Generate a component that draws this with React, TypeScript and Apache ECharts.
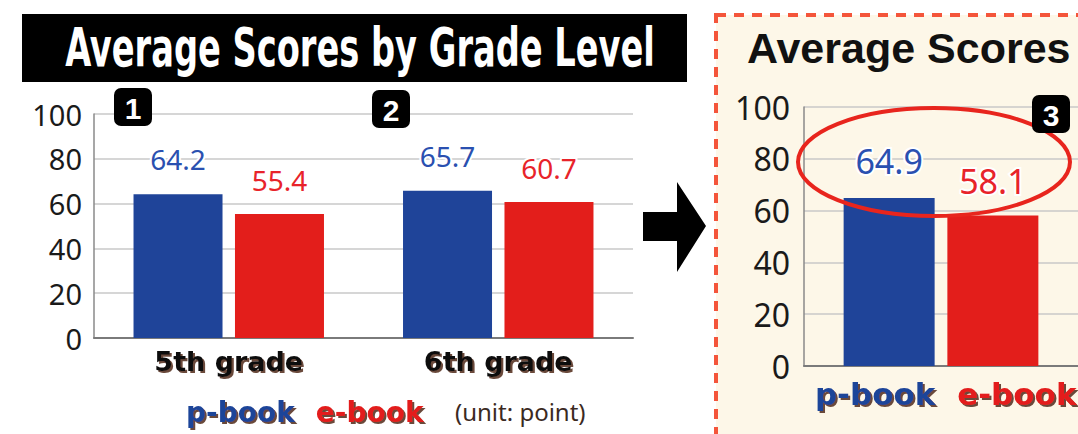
import React, { useEffect, useRef } from 'react';
import * as echarts from 'echarts';

const seriesNames = ['p-book', 'e-book'];
const gradeCategories = ['5th grade', '6th grade'];
const pbookByGrade = [64.2, 65.7];
const ebookByGrade = [55.4, 60.7];
const overallCategory = ['overall'];
const pbookOverall = [64.9];
const ebookOverall = [58.1];
const yMin = 0;
const yMax = 100;
const yStep = 20;
const mainTitle = 'Average Scores by Grade Level';
const sideTitle = 'Average Scores';
const unitNote = '(unit: point)';
const badges = ['1', '2', '3'];

const BLUE = '#1f4499';
const RED = '#e31e1b';
const BLUE_TXT = '#2a50b0';
const RED_TXT = '#e8232a';
const SHADOW = '#6b4a3a';

function measure(text: string, font: string): number {
  const c = document.createElement('canvas');
  const ctx = c.getContext('2d');
  if (!ctx) return 600;
  ctx.font = font;
  return ctx.measureText(text).width;
}

export default function App() {
  const ref = useRef<HTMLDivElement>(null);
  useEffect(() => {
    if (!ref.current) return;
    const chart = echarts.init(ref.current, undefined, { renderer: 'svg' });
    const titleFont = 'bold 54px "Liberation Sans Narrow", "DejaVu Sans Condensed", sans-serif';
    const tw = measure(mainTitle, titleFont);
    const titleScale = 590 / tw;

    const blockLabel = {
      fontFamily: 'DejaVu Sans',
      fontWeight: 'bold' as const,
      textShadowColor: SHADOW,
      textShadowOffsetX: 2,
      textShadowOffsetY: 2,
      textShadowBlur: 1,
    };

    const valueLabel = (color: string, size: number, dist: number) => ({
      show: true,
      position: 'top' as const,
      distance: dist,
      fontFamily: 'Noto Sans',
      fontSize: size,
      color,
      textBorderColor: '#ffffff',
      textBorderWidth: 4,
    });

    const nameMark = (name: string, color: string, dx: number) => ({
      symbol: 'circle',
      symbolSize: 1,
      itemStyle: { color: 'rgba(0,0,0,0)' },
      silent: true,
      data: [{ name, coord: [overallCategory[0], 0] }],
      label: {
        show: true,
        position: 'bottom' as const,
        distance: 12,
        offset: [dx, 0],
        formatter: '{b}',
        fontSize: 31,
        color,
        ...blockLabel,
      },
    });

    const badge = (txt: string, x: number, y: number) => ({
      type: 'group',
      x,
      y,
      z: 60,
      children: [
        { type: 'rect', shape: { x: 0, y: 0, width: 38, height: 38, r: 7 }, style: { fill: '#000' }, z: 60 },
        {
          type: 'text',
          z: 61,
          style: {
            text: txt,
            x: 19,
            y: 20,
            align: 'center',
            verticalAlign: 'middle',
            textAlign: 'center',
            textVerticalAlign: 'middle',
            font: 'bold 30px "Liberation Sans", sans-serif',
            fill: '#fff',
          },
        },
      ],
    });

    const yAxisBase = (grid: number, size: number, margin: number) => ({
      type: 'value' as const,
      gridIndex: grid,
      min: yMin,
      max: yMax,
      interval: yStep,
      axisLine: { show: true, lineStyle: { color: '#8a8a8a', width: 1.5 } },
      axisTick: { show: false },
      splitLine: { lineStyle: { color: '#c9c9c9', width: 1.5 } },
      axisLabel: { margin, fontSize: size, fontFamily: 'Noto Sans', color: '#1a1a1a' },
    });

    chart.setOption({
      animation: false,
      backgroundColor: '#ffffff',
      grid: [
        { left: 94, top: 114, width: 539, height: 224 },
        { left: 804, top: 107, width: 278, height: 259 },
      ],
      xAxis: [
        {
          type: 'category',
          gridIndex: 0,
          data: gradeCategories,
          axisTick: { show: false },
          axisLine: { lineStyle: { color: '#7a7a7a', width: 2 } },
          axisLabel: { margin: 10, fontSize: 27, color: '#111', ...blockLabel },
        },
        {
          type: 'category',
          gridIndex: 1,
          data: overallCategory,
          axisTick: { show: false },
          axisLine: { lineStyle: { color: '#7a7a7a', width: 2 } },
          axisLabel: { show: false },
        },
      ],
      yAxis: [yAxisBase(0, 29, 12), yAxisBase(1, 32, 14)],
      legend: {
        data: [
          { name: seriesNames[0], textStyle: { color: BLUE } },
          { name: seriesNames[1], textStyle: { color: RED } },
        ],
        left: 176,
        top: 393,
        icon: 'none',
        itemWidth: 0,
        itemHeight: 0,
        itemGap: 16,
        selectedMode: false,
        textStyle: { fontSize: 28, ...blockLabel },
      },
      series: [
        {
          name: seriesNames[0],
          type: 'bar',
          xAxisIndex: 0,
          yAxisIndex: 0,
          data: pbookByGrade,
          barWidth: 89,
          barGap: '14%',
          itemStyle: { color: BLUE },
          label: valueLabel(BLUE_TXT, 28, 21),
        },
        {
          name: seriesNames[1],
          type: 'bar',
          xAxisIndex: 0,
          yAxisIndex: 0,
          data: ebookByGrade,
          barWidth: 89,
          barGap: '14%',
          itemStyle: { color: RED },
          label: valueLabel(RED_TXT, 28, 20),
        },
        {
          name: seriesNames[0],
          type: 'bar',
          xAxisIndex: 1,
          yAxisIndex: 1,
          data: pbookOverall,
          barWidth: 91,
          barGap: '14%',
          itemStyle: { color: BLUE },
          label: valueLabel(BLUE_TXT, 34, 20),
          markPoint: nameMark(seriesNames[0], BLUE, -14),
        },
        {
          name: seriesNames[1],
          type: 'bar',
          xAxisIndex: 1,
          yAxisIndex: 1,
          data: ebookOverall,
          barWidth: 91,
          barGap: '14%',
          itemStyle: { color: RED },
          label: valueLabel(RED_TXT, 34, 18),
          markPoint: nameMark(seriesNames[1], RED, 24),
        },
      ],
      graphic: [
        {
          type: 'rect',
          z: -5,
          shape: { x: 716, y: 15, width: 400, height: 450 },
          style: { fill: '#fdf7e8', stroke: '#f4553a', lineWidth: 4, lineDash: [10, 8] },
        },
        {
          type: 'rect',
          z: 10,
          shape: { x: 22, y: 14, width: 665, height: 68 },
          style: { fill: '#000' },
        },
        {
          type: 'group',
          x: 360,
          y: 47,
          scaleX: titleScale,
          z: 11,
          children: [
            {
              type: 'text',
              z: 11,
              style: {
                text: mainTitle,
                x: 0,
                y: 0,
                align: 'center',
                verticalAlign: 'middle',
                textAlign: 'center',
                textVerticalAlign: 'middle',
                font: titleFont,
                fill: '#fff',
              },
            },
          ],
        },
        {
          type: 'text',
          z: 11,
          style: {
            text: sideTitle,
            x: 747,
            y: 48,
            align: 'left',
            verticalAlign: 'middle',
            textAlign: 'left',
            textVerticalAlign: 'middle',
            font: 'bold 43px "Liberation Sans", sans-serif',
            fill: '#111',
          },
        },
        {
          type: 'text',
          z: 11,
          style: {
            text: unitNote,
            x: 455,
            y: 411,
            align: 'left',
            verticalAlign: 'middle',
            textAlign: 'left',
            textVerticalAlign: 'middle',
            font: '24px "Noto Sans", sans-serif',
            fill: '#3b2a1f',
          },
        },
        {
          type: 'polygon',
          z: 11,
          shape: {
            points: [
              [643, 212],
              [677, 212],
              [677, 182],
              [706, 226],
              [677, 272],
              [677, 241],
              [643, 241],
            ],
          },
          style: { fill: '#000' },
        },
        {
          type: 'ellipse',
          z: 50,
          shape: { cx: 934, cy: 162, rx: 136, ry: 54 },
          style: { fill: 'none', stroke: '#e8251d', lineWidth: 4 },
        },
        badge(badges[0], 114, 88),
        badge(badges[1], 372, 90),
        badge(badges[2], 1032, 95),
      ],
    });
    return () => chart.dispose();
  }, []);
  return (
    <div
      ref={ref}
      style={{ position: 'absolute', left: 0, top: 0, width: 1078, height: 434 }}
    />
  );
}
